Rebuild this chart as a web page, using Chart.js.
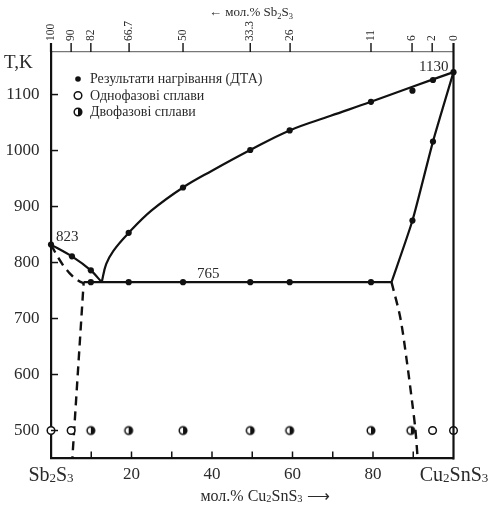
<!DOCTYPE html>
<html>
<head>
<meta charset="utf-8">
<script src="https://cdn.jsdelivr.net/npm/chart.js@4/dist/chart.umd.min.js"></script>
<style>
  html, body { margin: 0; padding: 0; background: #fff; }
  #wrap { width: 491px; height: 507px; }
</style>
</head>
<body>
<div id="wrap"><canvas id="chart" width="491" height="507"></canvas></div>
<script>
// composition: mol.% Cu2SnS3, temperature: K
const liqLeftX = [0, 5.2, 9.9, 12.6];
const liqLeftT = [832, 811, 786, 765];
const liqRightX = [12.6, 13.7, 15.5, 19.3, 25, 32.8, 40, 49.5, 59.3, 69.5, 79.5, 89.8, 100];
const liqRightT = [765, 797, 821, 853, 893, 934, 964, 1001, 1036, 1062, 1087, 1114, 1140];
const eutX = [8.1, 84.6];
const eutT = [765, 765];
const solRightX = [84.6, 89.8, 94.9, 100];
const solRightT = [765, 875, 1016, 1140];
const dashLeftX = [0, 1.5, 3.1, 4.6, 6, 7.2, 8.1, 5.3];
const dashLeftT = [832, 812, 794, 781, 771, 766, 763, 450];
const dashRightX = [84.6, 86.8, 88.4, 89.7, 90.5, 91.1];
const dashRightT = [765, 701, 624, 552, 504, 450];

// heating results (DTA)
const dtaX = [0, 5.2, 9.9, 19.3, 32.8, 49.5, 59.3, 79.5, 89.8, 94.9, 100,
              9.9, 19.3, 32.8, 49.5, 59.3, 79.5, 89.8, 94.9];
const dtaT = [832, 811, 786, 853, 934, 1001, 1036, 1087, 1107, 1126, 1140,
              765, 765, 765, 765, 765, 765, 875, 1016];

// annealed alloys
const annealT = 500;
const onePhaseX = [0, 5, 94.8, 100];
const twoPhaseX = [9.9, 19.3, 32.8, 49.5, 59.3, 79.5, 89.4];

// axes
const xTicks = [0, 10, 20, 30, 40, 50, 60, 70, 80, 90, 100];
const yTicks = [500, 600, 700, 800, 900, 1000, 1100];
const topPos = [0, 5, 9.9, 19.4, 32.8, 49.5, 59.4, 79.5, 89.7, 94.7, 100];
const topLabels = ['100', '90', '82', '66.7', '50', '33.3', '26', '11', '6', '2', '0'];

const legendLabels = ['Результати нагрівання (ДТА)', 'Однофазові сплави', 'Двофазові сплави'];

const FONT = '"Liberation Serif", "Times New Roman", serif';
const INK = '#111';
const TXT = '#2a2a2a';
const TOP_SIZE = 11.5;

const pts = (xs, ys) => xs.map((x, i) => ({ x, y: Array.isArray(ys) ? ys[i] : ys }));

function halfDot(r) {
  const c = document.createElement('canvas');
  const s = Math.ceil(r * 2 + 4);
  c.width = c.height = s;
  const g = c.getContext('2d');
  const m = s / 2;
  g.fillStyle = '#fff';
  g.beginPath(); g.arc(m, m, r, 0, Math.PI * 2); g.fill();
  g.fillStyle = INK;
  g.beginPath(); g.arc(m, m, r, -Math.PI / 2, Math.PI / 2); g.closePath(); g.fill();
  g.strokeStyle = INK; g.lineWidth = 1.5;
  g.beginPath(); g.arc(m, m, r, 0, Math.PI * 2); g.stroke();
  return c;
}
const halfImg = halfDot(3.8);

// text with small digits (chemical formulae)
function formula(ctx, text, x, y, size, align, drop) {
  const segs = text.match(/\d+|\D+/g);
  const isNum = s => /^\d+$/.test(s);
  let w = 0;
  segs.forEach(s => {
    ctx.font = (isNum(s) ? size * 0.65 : size) + 'px ' + FONT;
    w += ctx.measureText(s).width;
  });
  let cx = align === 'center' ? x - w / 2 : (align === 'right' ? x - w : x);
  ctx.textAlign = 'left';
  ctx.textBaseline = 'alphabetic';
  segs.forEach(s => {
    const sub = isNum(s);
    ctx.font = (sub ? size * 0.65 : size) + 'px ' + FONT;
    ctx.fillText(s, cx, y + (sub ? size * drop : 0));
    cx += ctx.measureText(s).width;
  });
}

const decor = {
  id: 'decor',
  afterDraw(chart) {
    const { ctx, chartArea: a, scales } = chart;
    ctx.save();
    ctx.strokeStyle = INK;

    // right frame
    ctx.lineWidth = 2.2;
    ctx.beginPath(); ctx.moveTo(a.right, a.top); ctx.lineTo(a.right, a.bottom + 1); ctx.stroke();

    // inward ticks (left, bottom), outward ticks (top)
    ctx.lineWidth = 1.5;
    yTicks.forEach(v => {
      const py = scales.y.getPixelForValue(v);
      ctx.beginPath(); ctx.moveTo(a.left, py); ctx.lineTo(a.left + 7, py); ctx.stroke();
    });
    xTicks.slice(1, -1).forEach(v => {
      const px = scales.x.getPixelForValue(v);
      ctx.beginPath(); ctx.moveTo(px, a.bottom); ctx.lineTo(px, a.bottom - 7); ctx.stroke();
    });
    topPos.forEach((v, i) => {
      const px = scales.x2.getPixelForValue(v);
      ctx.lineWidth = (i === 0 || i === topPos.length - 1) ? 2.2 : 1.4;
      ctx.beginPath(); ctx.moveTo(px, a.top); ctx.lineTo(px, a.top - 9); ctx.stroke();
    });

    // texts
    ctx.fillStyle = TXT;
    ctx.font = '19px ' + FONT;
    ctx.textAlign = 'left';
    ctx.textBaseline = 'alphabetic';
    ctx.fillText('T,K', 4, 68);

    formula(ctx, '← мол.% Sb2S3', 251, 16, 13, 'center', 0.2);
    formula(ctx, 'Sb2S3', 51, 481, 20, 'center', 0.05);
    formula(ctx, 'Cu2SnS3', 454, 481, 20, 'center', 0.05);
    formula(ctx, 'мол.% Cu2SnS3 ⟶', 265, 501, 16, 'center', 0.05);

    ctx.font = '15px ' + FONT;
    ctx.textAlign = 'left';
    ctx.fillText('823', 56, 241);
    ctx.fillText('765', 197, 278);
    ctx.fillText('1130', 419, 71);

    // legend
    const lx = 78, rows = [79, 95.5, 112];
    ctx.fillStyle = INK;
    ctx.beginPath(); ctx.arc(lx, rows[0], 2.8, 0, Math.PI * 2); ctx.fill();
    ctx.fillStyle = '#fff'; ctx.lineWidth = 1.5;
    ctx.beginPath(); ctx.arc(lx, rows[1], 3.8, 0, Math.PI * 2); ctx.fill(); ctx.stroke();
    ctx.drawImage(halfImg, lx - halfImg.width / 2, rows[2] - halfImg.height / 2);
    ctx.fillStyle = TXT;
    ctx.font = '14px ' + FONT;
    ctx.textBaseline = 'middle';
    legendLabels.forEach((t, i) => ctx.fillText(t, 90, rows[i] + 0.5));

    ctx.restore();
  }
};

const lineDs = (xs, ys, dashed, tension) => ({
  type: 'scatter',
  data: pts(xs, ys),
  showLine: true,
  borderColor: INK,
  borderWidth: dashed ? 2.4 : 2.2,
  borderDash: dashed ? [9, 6] : [],
  pointRadius: 0,
  tension: tension,
  clip: false
});

new Chart(document.getElementById('chart'), {
  type: 'scatter',
  data: {
    datasets: [
      { data: pts(dtaX, dtaT), pointRadius: 3.1, pointBackgroundColor: INK, pointBorderWidth: 0, clip: false },
      { data: pts(onePhaseX, annealT), pointRadius: 3.8, pointBackgroundColor: '#fff', pointBorderColor: INK, pointBorderWidth: 1.5, clip: false },
      { data: pts(twoPhaseX, annealT), pointStyle: halfImg, clip: false },
      lineDs(liqLeftX, liqLeftT, false, 0.3),
      lineDs(liqRightX, liqRightT, false, 0.4),
      lineDs(eutX, eutT, false, 0),
      lineDs(solRightX, solRightT, false, 0.2),
      lineDs(dashLeftX, dashLeftT, true, 0),
      lineDs(dashRightX, dashRightT, true, 0.3)
    ]
  },
  options: {
    responsive: false,
    animation: false,
    layout: { padding: { left: 0, right: 37.5, top: 0, bottom: 0 } },
    plugins: { legend: { display: false }, tooltip: { enabled: false } },
    scales: {
      x: {
        type: 'linear', position: 'bottom', min: 0, max: 100,
        afterBuildTicks: s => { s.ticks = xTicks.map(v => ({ value: v })); },
        afterFit: s => { s.height = 48.5; },
        grid: { display: false, drawTicks: false },
        border: { display: true, color: INK, width: 2.2 },
        ticks: {
          padding: 6, autoSkip: false, maxRotation: 0, color: TXT,
          font: { family: FONT, size: 17 },
          callback: v => (v % 20 === 0 && v > 0 && v < 100) ? String(v) : ''
        }
      },
      x2: {
        type: 'linear', position: 'top', min: 0, max: 100,
        afterBuildTicks: s => { s.ticks = topPos.map(v => ({ value: v })); },
        afterFit: s => { s.height = 52; },
        grid: { display: false, drawTicks: false },
        border: { display: true, color: '#777', width: 1.3 },
        ticks: {
          padding: 11, autoSkip: false, minRotation: 90, maxRotation: 90, color: TXT,
          labelOffset: TOP_SIZE * 1.2,
          font: { family: FONT, size: TOP_SIZE },
          callback: (v, i) => topLabels[i]
        }
      },
      y: {
        type: 'linear', position: 'left', min: 450, max: 1176,
        afterBuildTicks: s => { s.ticks = yTicks.map(v => ({ value: v })); },
        afterFit: s => { s.width = 51; },
        grid: { display: false, drawTicks: false },
        border: { display: true, color: INK, width: 2.2 },
        ticks: {
          padding: 11.5, color: TXT, font: { family: FONT, size: 17 },
          callback: v => String(v)
        }
      }
    }
  },
  plugins: [decor]
});
</script>
</body>
</html>
